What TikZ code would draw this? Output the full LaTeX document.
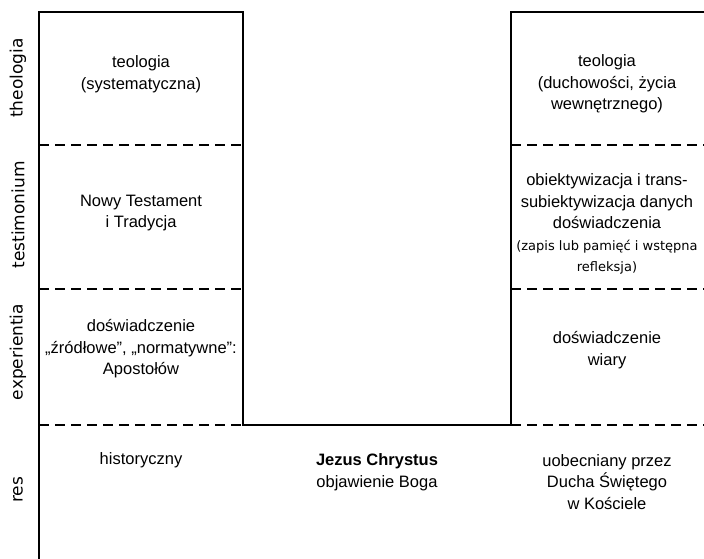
\documentclass[tikz,border=0pt]{standalone}
\usepackage{fontspec}
\setmainfont{Liberation Sans}
\newfontfamily\axisfont{DejaVu Sans}
\begin{document}
\begin{tikzpicture}[x=1pt,y=-1pt,
  solidline/.style={line width=2.8pt},
  dashline/.style={line width=2.8pt, dash pattern=on 10pt off 6pt},
  body/.style={align=center, font=\fontsize{16.5}{21.5}\selectfont, inner sep=0pt},
  axis/.style={rotate=90, font=\axisfont\fontsize{17}{19}\selectfont, inner sep=0pt}]
\newcommand{\smalltxt}{\axisfont\fontsize{13}{18.5}\selectfont}
\useasboundingbox (0,0) rectangle (704,559);
% frame
\draw[solidline] (39,559) -- (39,12) -- (243,12) -- (243,425) -- (511,425) -- (511,12) -- (704,12);
% dashed separators
\foreach \yy in {145,289,425}{
  \draw[dashline] (39,\yy) -- (243,\yy);
  \draw[dashline] (511,\yy) -- (704,\yy);
}
% axis labels
\node[axis] (ax1) at (18,78) {theologia};
\node[axis] (ax2) at (18,215) {testimonium};
\node[axis] (ax3) at (18,352) {experientia};
\node[axis] (ax4) at (18,490) {res};
% left column
\node[body] (l1) at (141,74) {teologia\\(systematyczna)};
\node[body] (l2) at (141,213) {Nowy Testament\\i Tradycja};
\node[body] (l3) at (141,349) {doświadczenie\\„źródłowe”, „normatywne”:\\Apostołów};
\node[body] (l4) at (141,460) {historyczny};
% middle
\node[body] (m1) at (377,472) {\textbf{Jezus Chrystus}\\objawienie Boga};
% right column
\node[body] (r1) at (607,84) {teologia\\(duchowości, życia\\wewnętrznego)};
\node[body] (r2) at (607,224) {obiektywizacja i trans-\\subiektywizacja danych\\doświadczenia\\{\smalltxt (zapis lub pamięć i wstępna}\\{\smalltxt refleksja)}};
\node[body] (r3) at (607,350) {doświadczenie\\wiary};
\node[body] (r4) at (607,482) {uobecniany przez\\Ducha Świętego\\w Kościele};
\end{tikzpicture}
\end{document}
